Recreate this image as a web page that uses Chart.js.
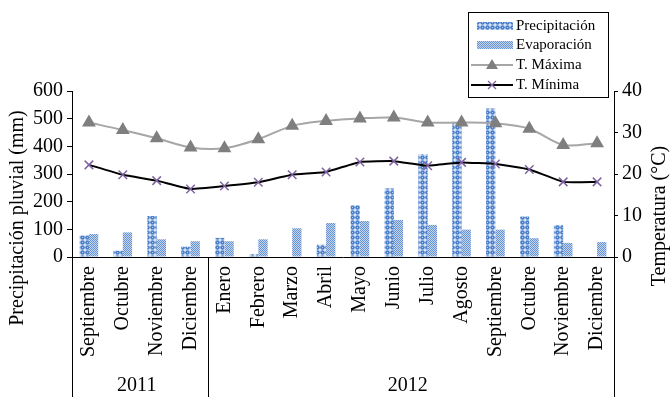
<!DOCTYPE html>
<html>
<head>
<meta charset="utf-8">
<script src="https://cdn.jsdelivr.net/npm/chart.js@4/dist/chart.umd.min.js"></script>
<style>
  html, body { margin: 0; padding: 0; background: #ffffff; }
  #wrap { width: 671px; height: 397px; }
</style>
</head>
<body>
<div id="wrap"><canvas id="c" width="671" height="397"></canvas></div>
<script>
// Monthly climate record, September 2011 - December 2012
const meses = ['Septiembre', 'Octubre', 'Noviembre', 'Diciembre', 'Enero', 'Febrero', 'Marzo', 'Abril',
               'Mayo', 'Junio', 'Julio', 'Agosto', 'Septiembre', 'Octubre', 'Noviembre', 'Diciembre'];
const precipitacion = [78, 23, 148, 37, 69, 11, 0, 45, 187, 248, 371, 483, 537, 146, 116, 0];
const evaporacion   = [83, 89, 64, 57, 57, 64, 104, 123, 130, 134, 116, 99, 99, 68, 51, 54];
const tMaxima = [32.4, 30.6, 28.6, 26.4, 26.2, 28.4, 31.6, 32.8, 33.4, 33.6, 32.4, 32.4, 32.2, 30.9, 27.0, 27.4];
const tMinima = [22.2, 19.8, 18.4, 16.4, 17.1, 18.0, 19.8, 20.5, 22.9, 23.1, 22.0, 22.8, 22.4, 21.1, 18.1, 18.1];
const anios = ['2011', '2012'];
const mesesPorAnio = [4, 12];
const ticksPrecip = [0, 600, 100];
const ticksTemp = [0, 40, 5];

const SERIF = "'Liberation Serif', 'Times New Roman', serif";

function makePattern(size, paint) {
  const c = document.createElement('canvas');
  c.width = size; c.height = size;
  const g = c.getContext('2d');
  paint(g);
  return document.getElementById('c').getContext('2d').createPattern(c, 'repeat');
}

// ring pattern for rainfall bars
const patPrecip = makePattern(5, g => {
  g.fillStyle = '#e3ebf7';
  g.fillRect(0, 0, 5, 5);
  g.fillStyle = '#4a7fcb';
  g.beginPath(); g.arc(2.5, 2.5, 2.3, 0, Math.PI * 2); g.fill();
  g.fillStyle = '#b9cdec';
  g.fillRect(2, 2, 1, 1);
});
// fine dot pattern for evaporation bars
const patEvap = makePattern(2, g => {
  g.fillStyle = '#c4d5ef';
  g.fillRect(0, 0, 2, 2);
  g.fillStyle = '#6593d6';
  g.fillRect(0, 0, 1, 1);
  g.fillRect(1, 1, 1, 1);
});

const overlay = {
  id: 'overlay',
  afterDraw(chart) {
    const ctx = chart.ctx;
    const x = chart.scales.x;
    const area = chart.chartArea;
    ctx.save();

    // year group separators below the axis
    ctx.strokeStyle = '#000';
    ctx.lineWidth = 1;
    const bounds = [area.left];
    let acc = 0;
    mesesPorAnio.forEach(n => { acc += n; bounds.push(x.getPixelForValue(acc - 0.5)); });
    bounds[bounds.length - 1] = area.right;
    bounds.forEach(px => {
      const xx = Math.round(px) + 0.5;
      ctx.beginPath(); ctx.moveTo(xx, area.bottom); ctx.lineTo(xx, chart.height); ctx.stroke();
    });

    // year labels
    ctx.fillStyle = '#000';
    ctx.font = '20px ' + SERIF;
    ctx.textAlign = 'center';
    ctx.textBaseline = 'middle';
    anios.forEach((a, i) => {
      ctx.fillText(a, (bounds[i] + bounds[i + 1]) / 2 - 3, 386);
    });

    // axis titles
    ctx.save();
    ctx.translate(18, 218);
    ctx.rotate(-Math.PI / 2);
    ctx.fillText('Precipitación pluvial (mm)', 0, 0);
    ctx.restore();
    ctx.save();
    ctx.translate(660, 216);
    ctx.rotate(-Math.PI / 2);
    ctx.fillText('Temperatura (°C)', 0, 0);
    ctx.restore();

    // legend
    const lx = 468.5, ly = 12.5, lw = 140, lh = 85;
    ctx.fillStyle = '#fff';
    ctx.fillRect(lx, ly, lw, lh);
    ctx.strokeStyle = '#000';
    ctx.strokeRect(lx, ly, lw, lh);
    ctx.font = '15px ' + SERIF;
    ctx.textAlign = 'left';
    const rows = [26, 45, 65, 85];
    const tx = 516;
    ctx.fillStyle = patPrecip;
    ctx.fillRect(477, rows[0] - 4, 36, 8);
    ctx.fillStyle = patEvap;
    ctx.fillRect(477, rows[1] - 4, 36, 8);
    ctx.lineWidth = 2;
    ctx.strokeStyle = '#a6a6a6';
    ctx.beginPath(); ctx.moveTo(471, rows[2]); ctx.lineTo(513, rows[2]); ctx.stroke();
    ctx.fillStyle = '#7f7f7f';
    ctx.beginPath();
    ctx.moveTo(492, rows[2] - 6); ctx.lineTo(498, rows[2] + 4); ctx.lineTo(486, rows[2] + 4); ctx.closePath(); ctx.fill();
    ctx.strokeStyle = '#000';
    ctx.beginPath(); ctx.moveTo(471, rows[3]); ctx.lineTo(513, rows[3]); ctx.stroke();
    ctx.strokeStyle = '#8064a2';
    ctx.lineWidth = 1.3;
    ctx.beginPath();
    ctx.moveTo(488, rows[3] - 4); ctx.lineTo(496, rows[3] + 4);
    ctx.moveTo(496, rows[3] - 4); ctx.lineTo(488, rows[3] + 4);
    ctx.stroke();
    ctx.fillStyle = '#000';
    ['Precipitación', 'Evaporación', 'T. Máxima', 'T. Mínima'].forEach((t, i) => ctx.fillText(t, tx, rows[i]));

    ctx.restore();
  }
};

const tickFont = { family: SERIF, size: 20 };

new Chart(document.getElementById('c'), {
  type: 'bar',
  data: {
    labels: meses,
    datasets: [
      { type: 'line', label: 'T. Máxima', data: tMaxima, yAxisID: 'y1', order: 1,
        borderColor: '#a6a6a6', borderWidth: 2, tension: 0.3,
        pointStyle: 'triangle', pointRadius: 6, pointBackgroundColor: '#7f7f7f', pointBorderColor: '#7f7f7f' },
      { type: 'line', label: 'T. Mínima', data: tMinima, yAxisID: 'y1', order: 1,
        borderColor: '#000', borderWidth: 2, tension: 0.1,
        pointStyle: 'crossRot', pointRadius: 6, pointBorderColor: '#8064a2', pointBorderWidth: 1.5 },
      { label: 'Precipitación', data: precipitacion, yAxisID: 'y', order: 2,
        backgroundColor: patPrecip, barPercentage: 1, categoryPercentage: 0.55 },
      { label: 'Evaporación', data: evaporacion, yAxisID: 'y', order: 2,
        backgroundColor: patEvap, barPercentage: 1, categoryPercentage: 0.55 }
    ]
  },
  options: {
    responsive: false,
    animation: false,
    devicePixelRatio: 1,
    layout: { padding: { top: 91, left: 0, right: 0, bottom: 0 } },
    plugins: { legend: { display: false }, tooltip: { enabled: false } },
    scales: {
      x: {
        grid: { display: false, drawTicks: false },
        border: { display: true, color: '#000', width: 1 },
        ticks: { minRotation: 90, maxRotation: 90, autoSkip: false, padding: 9, color: '#000', font: tickFont },
        afterFit(s) { s.height = 140; }
      },
      y: {
        position: 'left', min: ticksPrecip[0], max: ticksPrecip[1],
        ticks: { stepSize: ticksPrecip[2], color: '#000', font: tickFont, padding: 4 },
        grid: { drawOnChartArea: false, drawTicks: true, tickLength: 5, color: '#000' },
        border: { color: '#000' },
        afterFit(s) { s.width = 72; }
      },
      y1: {
        position: 'right', min: ticksTemp[0], max: ticksTemp[1],
        ticks: { stepSize: ticksTemp[2], color: '#000', font: tickFont, padding: 4 },
        grid: { drawOnChartArea: false, drawTicks: true, tickLength: 4, color: '#000' },
        border: { color: '#000' },
        afterFit(s) { s.width = 57; }
      }
    }
  },
  plugins: [overlay]
});
</script>
</body>
</html>
